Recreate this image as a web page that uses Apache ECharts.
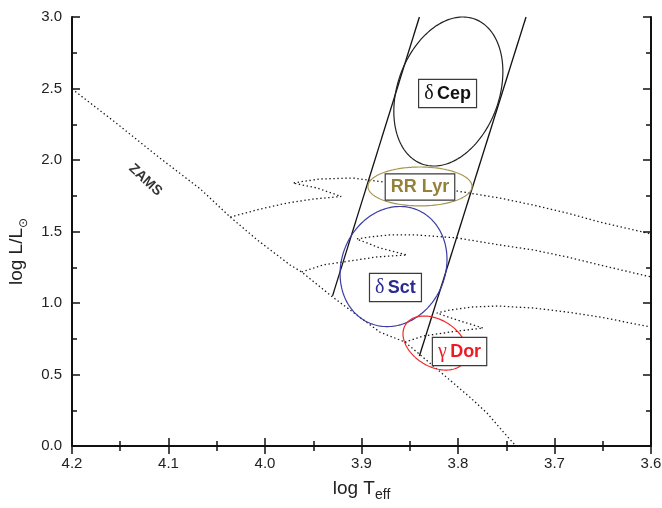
<!DOCTYPE html>
<html>
<head>
<meta charset="utf-8">
<script src="https://cdn.jsdelivr.net/npm/echarts@6/dist/echarts.min.js"></script>
<style>
  html, body { margin: 0; padding: 0; background: #fff; }
  #chart { width: 662px; height: 508px; }
</style>
</head>
<body>
<div id="chart"></div>
<script>
// Points are [log Teff, log L/Lsun]
const zams = [
  [4.200, 2.497], [4.153, 2.252], [4.109, 2.014], [4.067, 1.797], [4.036, 1.601],
  [4.008, 1.441], [3.974, 1.266], [3.962, 1.217], [3.930, 1.042], [3.881, 0.797],
  [3.855, 0.727], [3.839, 0.636], [3.811, 0.476], [3.788, 0.343], [3.770, 0.231],
  [3.753, 0.098], [3.740, 0.000]
];
const track1 = [
  [4.036, 1.601], [4.005, 1.657], [3.977, 1.699], [3.950, 1.727], [3.921, 1.745],
  [3.946, 1.804], [3.971, 1.839], [3.961, 1.850], [3.943, 1.867], [3.909, 1.874],
  [3.893, 1.860], [3.860, 1.832], [3.829, 1.808], [3.801, 1.783], [3.757, 1.734],
  [3.722, 1.685], [3.687, 1.629], [3.653, 1.566], [3.600, 1.483]
];
const track2 = [
  [3.962, 1.217], [3.940, 1.266], [3.912, 1.294], [3.884, 1.322], [3.853, 1.336],
  [3.881, 1.385], [3.905, 1.448], [3.891, 1.462], [3.871, 1.476], [3.843, 1.476],
  [3.801, 1.455], [3.757, 1.406], [3.722, 1.371], [3.687, 1.322], [3.653, 1.266],
  [3.600, 1.182]
];
const track3 = [
  [3.855, 0.727], [3.836, 0.769], [3.808, 0.797], [3.774, 0.825], [3.801, 0.881],
  [3.822, 0.930], [3.808, 0.951], [3.785, 0.972], [3.759, 0.979], [3.722, 0.965],
  [3.687, 0.937], [3.653, 0.902], [3.600, 0.832]
];

// Instability strip edges
const blueEdge = [[3.930, 1.05], [3.840, 3.0]];
const redEdge = [[3.840, 0.629], [3.7295, 3.0]];

// Pulsator classes: ellipse centre, half-extent in log Teff / log L, tilt (correlation)
const classGreek = ['δ', '', 'δ', 'γ'];
const classNames = ['Cep', 'RR Lyr', 'Sct', 'Dor'];
const ellipseCenters = [[3.810, 2.479], [3.8394, 1.815], [3.8668, 1.255], [3.8238, 0.720]];
const ellipseRadii = [[0.0565, 0.521], [0.0539, 0.136], [0.0554, 0.420], [0.0332, 0.189]];
const ellipseTilt = [-0.266, 0.0, -0.12, 0.34];
const labelAnchors = [[3.8108, 2.465], [3.8394, 1.811], [3.8648, 1.108], [3.7984, 0.661]];
const zamsLabelAnchor = [4.124, 1.860];

const xTicks = [3.6, 3.7, 3.8, 3.9, 4.0, 4.1, 4.2];
const yTicks = [0.0, 0.5, 1.0, 1.5, 2.0, 2.5, 3.0];

const classColors = ['#111111', '#94813a', '#2b2b90', '#ec1c24'];
const ellipseColors = ['#222222', '#a8964f', '#3b3ba6', '#ee2a2a'];

const FONT = "'Liberation Sans', Arial, sans-serif";
const chart = echarts.init(document.getElementById('chart'), null, { renderer: 'canvas' });

const axisLine = { show: true, lineStyle: { color: '#111', width: 2 } };
const axisTick = { show: true, inside: true, length: 8, lineStyle: { color: '#111', width: 1.5 } };
const minorTick = { show: true, splitNumber: 2, length: 5, lineStyle: { color: '#111', width: 1.5 } };

function xAxisBase(extra) {
  return Object.assign({
    type: 'value', min: xTicks[0], max: xTicks[xTicks.length - 1], interval: 0.1, inverse: true,
    axisLine, axisTick, minorTick, splitLine: { show: false }
  }, extra);
}
function yAxisBase(extra) {
  return Object.assign({
    type: 'value', min: yTicks[0], max: yTicks[yTicks.length - 1], interval: 0.5,
    axisLine, axisTick, minorTick, splitLine: { show: false }
  }, extra);
}

const dotted = { color: '#1a1a1a', width: 1.3, type: [1.4, 2.6] };
function trackSeries(name, pts) {
  return { name, type: 'line', data: pts, showSymbol: false, symbol: 'none', silent: true,
    lineStyle: dotted, z: 2, animation: false };
}
function edgeSeries(name, pts) {
  return { name, type: 'line', data: pts, showSymbol: false, symbol: 'none', silent: true,
    lineStyle: { color: '#111', width: 1.3 }, z: 3, animation: false };
}

const ellipseData = ellipseCenters.map((c, i) => [c[0], c[1], ellipseRadii[i][0], ellipseRadii[i][1], ellipseTilt[i]]);

const rich = {};
classColors.forEach((col, i) => {
  rich['g' + i] = { fontFamily: "'Liberation Serif', 'DejaVu Serif', serif", fontSize: 20, color: col };
  rich['b' + i] = { fontFamily: FONT, fontSize: 18, fontWeight: 'bold', color: col };
});

chart.setOption({
  animation: false,
  backgroundColor: '#ffffff',
  grid: { left: 72, right: 11, top: 17, bottom: 62, containLabel: false, outerBoundsMode: 'none' },
  xAxis: [
    xAxisBase({
      position: 'bottom',
      axisLabel: { margin: 10, fontFamily: FONT, fontSize: 15, color: '#222', formatter: v => v.toFixed(1) },
      name: 'log T{s|eff}', nameLocation: 'middle', nameGap: 29,
      nameTextStyle: { fontFamily: FONT, fontSize: 19, color: '#222', lineHeight: 26,
        rich: { s: { fontFamily: FONT, fontSize: 14, color: '#222', lineHeight: 14, verticalAlign: 'bottom' } } }
    }),
    xAxisBase({ position: 'top', axisLabel: { show: false } })
  ],
  yAxis: [
    yAxisBase({
      position: 'left',
      axisLabel: { margin: 10, fontFamily: FONT, fontSize: 15, color: '#222', formatter: v => v.toFixed(1) },
      name: 'log L/L{s|⊙}', nameLocation: 'middle', nameGap: 38, nameRotate: 90,
      nameTextStyle: { fontFamily: FONT, fontSize: 19, color: '#222', lineHeight: 26, padding: [0, 40, 0, 0],
        rich: { s: { fontFamily: "'DejaVu Sans', sans-serif", fontSize: 12, color: '#222', lineHeight: 14, verticalAlign: 'bottom' } } }
    }),
    yAxisBase({ position: 'right', axisLabel: { show: false } })
  ],
  series: [
    trackSeries('ZAMS', zams),
    trackSeries('track1', track1),
    trackSeries('track2', track2),
    trackSeries('track3', track3),
    edgeSeries('blue edge', blueEdge),
    edgeSeries('red edge', redEdge),
    {
      name: 'classes', type: 'custom', data: ellipseData, z: 4, silent: true,
      encode: { x: 0, y: 1 },
      renderItem: (params, api) => {
        const i = params.dataIndex;
        const cx = api.value(0), cy = api.value(1), rx = api.value(2), ry = api.value(3), r = api.value(4);
        const s = Math.sqrt(1 - r * r);
        const pts = [];
        for (let k = 0; k <= 180; k++) {
          const t = 2 * Math.PI * k / 180;
          pts.push(api.coord([cx + rx * Math.cos(t), cy + ry * (r * Math.cos(t) + s * Math.sin(t))]));
        }
        return { type: 'polyline', shape: { points: pts },
          style: { fill: null, stroke: ellipseColors[i], lineWidth: 1.2 } };
      }
    },
    {
      name: 'class labels', type: 'scatter', data: labelAnchors, symbolSize: 0, z: 6, silent: true,
      itemStyle: { color: '#000', opacity: 1 },
      label: {
        show: true, position: 'inside', opacity: 1,
        backgroundColor: '#ffffff', borderColor: '#3a3a3a', borderWidth: 1.2,
        padding: [4, 5, 3, 5],
        formatter: p => {
          const i = p.dataIndex;
          return (classGreek[i] ? '{g' + i + '|' + classGreek[i] + '} ' : '') + '{b' + i + '|' + classNames[i] + '}';
        },
        rich
      }
    },
    {
      name: 'zams label', type: 'scatter', data: [zamsLabelAnchor], symbolSize: 0, z: 6, silent: true,
      itemStyle: { color: '#000' },
      label: { show: true, position: 'inside', formatter: 'ZAMS', rotate: -43,
        fontFamily: FONT, fontWeight: 'bold', fontSize: 14, color: '#000' }
    }
  ]
});
</script>
</body>
</html>
